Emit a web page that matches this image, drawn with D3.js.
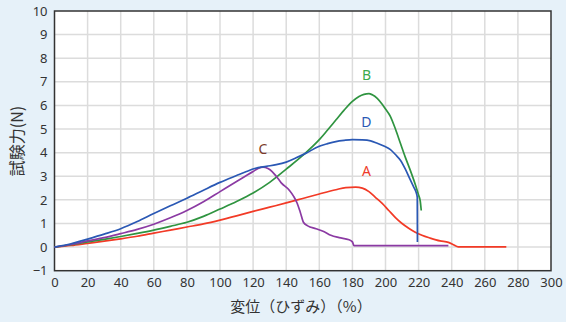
<!DOCTYPE html>
<html><head><meta charset="utf-8">
<script src="https://cdn.jsdelivr.net/npm/d3@7"></script>
<style>
html,body{margin:0;padding:0;background:#e6f1f9;}
svg{display:block;font-family:"Noto Sans","Open Sans",sans-serif;}
</style></head>
<body><svg id="c" width="566" height="322"></svg>
<script>
// x ticks (%) and y ticks (N)
const xTicks = d3.range(0, 301, 20);
const yTicks = d3.range(-1, 11, 1);

// specimen curves: [displacement %, force N]
const seriesA = [[0,0],[10,0.07],[20,0.16],[30,0.25],[40,0.35],[50,0.46],[60,0.59],[70,0.72],[80,0.85],[90,0.98],[100,1.14],[110,1.32],[120,1.51],[130,1.69],[140,1.87],[150,2.06],[160,2.25],[170,2.43],[176,2.52],[182,2.54],[186,2.5],[190,2.35],[194,2.1],[198,1.85],[202,1.55],[206,1.25],[210,1.0],[214,0.8],[218,0.63],[222,0.5],[227,0.38],[233,0.26],[238,0.2],[241,0.1],[244,0.01],[273,0.01]];
const seriesB = [[0,0],[10,0.1],[20,0.22],[30,0.33],[40,0.45],[50,0.58],[60,0.72],[70,0.88],[80,1.05],[90,1.3],[100,1.61],[110,1.93],[120,2.29],[130,2.74],[140,3.3],[150,3.88],[160,4.55],[165,4.96],[170,5.38],[175,5.8],[180,6.17],[184,6.38],[187,6.47],[190,6.5],[192,6.45],[195,6.3],[198,6.05],[200,5.85],[203,5.53],[206,5.0],[209,4.4],[212,3.8],[215,3.25],[218,2.65],[220,2.2],[221,1.95],[221.6,1.55]];
const seriesC = [[0,0],[10,0.11],[20,0.26],[30,0.4],[40,0.57],[50,0.75],[60,0.97],[70,1.24],[80,1.55],[90,1.92],[100,2.35],[110,2.78],[115,2.99],[120,3.2],[123,3.33],[126,3.39],[129,3.33],[131.5,3.2],[134,3.0],[137,2.72],[142,2.4],[144.5,2.15],[146.5,1.88],[148.5,1.48],[150.5,1.04],[153,0.9],[158,0.78],[163,0.65],[167,0.5],[172,0.4],[178,0.31],[180,0.22],[181,0.06],[238,0.06]];
const seriesD = [[0,0],[10,0.14],[20,0.34],[30,0.55],[40,0.78],[50,1.08],[60,1.42],[70,1.75],[80,2.07],[90,2.41],[100,2.74],[110,3.03],[116,3.2],[121,3.33],[128,3.42],[134,3.49],[140,3.6],[146,3.78],[152,3.98],[160,4.27],[165,4.38],[170,4.47],[175,4.52],[180,4.55],[186,4.54],[191,4.5],[195,4.4],[199,4.28],[203,4.13],[206,3.92],[209,3.68],[212,3.3],[214.5,2.92],[217,2.55],[218.6,2.3],[219.2,2.1],[219.3,0.22]];

const curves = [
  {name:"A", data:seriesA, color:"#f23a26", label:[188.5,3.02], labelColor:"#ee3a2a"},
  {name:"B", data:seriesB, color:"#2f9440", label:[188.5,7.08], labelColor:"#3aaa4c"},
  {name:"C", data:seriesC, color:"#8b3aa3", label:[126,3.95], labelColor:"#7a3b2a"},
  {name:"D", data:seriesD, color:"#2a58b4", label:[188.5,5.1], labelColor:"#2a58b4"}
];

const svg = d3.select("#c");
const x = d3.scaleLinear().domain([0,300]).range([54.5,551]);
const y = d3.scaleLinear().domain([-1,10]).range([270.7,11]);

// plot area
svg.append("rect").attr("x",x(0)).attr("y",y(10)).attr("width",x(300)-x(0)).attr("height",y(-1)-y(10)).attr("fill","#fff");

// grid
const g = svg.append("g");
g.selectAll(".gx").data(xTicks.slice(1,-1)).join("line")
  .attr("x1",d=>x(d)).attr("x2",d=>x(d)).attr("y1",y(10)).attr("y2",y(-1))
  .attr("stroke","#dcdcdc").attr("stroke-width",1.5);
g.selectAll(".gy").data(yTicks.slice(1,-1)).join("line")
  .attr("y1",d=>y(d)).attr("y2",d=>y(d)).attr("x1",x(0)).attr("x2",x(300))
  .attr("stroke","#dcdcdc").attr("stroke-width",1.5);

// axes
const xAxis = svg.append("g").attr("transform",`translate(0,${y(-1)})`)
  .call(d3.axisBottom(x).tickValues(xTicks).tickSize(0).tickPadding(7));
const yAxis = svg.append("g").attr("transform",`translate(${x(0)},0)`)
  .call(d3.axisLeft(y).tickValues(yTicks).tickSize(0).tickPadding(7));
[xAxis,yAxis].forEach(a=>{
  a.select(".domain").remove();
  a.selectAll("text").attr("font-size",13).attr("fill","#333").attr("font-family","'Noto Sans',sans-serif");
});

// frame
svg.append("rect").attr("x",x(0)).attr("y",y(10)).attr("width",x(300)-x(0)).attr("height",y(-1)-y(10))
  .attr("fill","none").attr("stroke","#333").attr("stroke-width",1.5);

// curves
const line = d3.line().x(d=>x(d[0])).y(d=>y(d[1])).curve(d3.curveMonotoneX);
curves.forEach(c=>{
  svg.append("path").datum(c.data)
    .attr("d", line)
    .attr("fill","none").attr("stroke",c.color).attr("stroke-width",1.7).attr("stroke-linejoin","round");
  svg.append("text").attr("x",x(c.label[0])).attr("y",y(c.label[1]))
    .attr("text-anchor","middle").attr("font-size",14).attr("fill",c.labelColor).text(c.name);
});

// axis titles
svg.append("text").attr("x",301).attr("y",312).attr("text-anchor","middle")
  .attr("font-size",15).attr("fill","#333").attr("font-family","'Noto Sans CJK JP',sans-serif").text("変位（ひずみ）（%）");
svg.append("text").attr("transform","translate(23,141) rotate(-90)").attr("text-anchor","middle")
  .attr("font-size",16).attr("fill","#333").attr("font-family","'Noto Sans CJK JP',sans-serif").text("試験力(N)");
</script></body></html>
